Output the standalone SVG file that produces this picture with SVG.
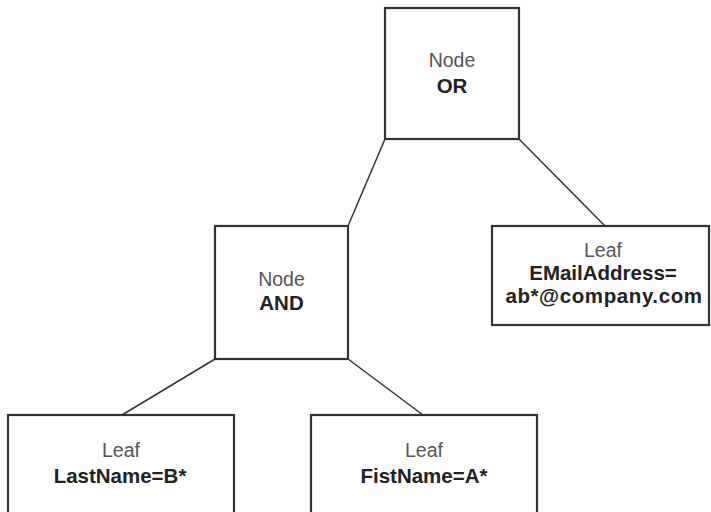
<svg xmlns="http://www.w3.org/2000/svg" width="711" height="512" viewBox="0 0 711 512">
<style>
.box{fill:#fff;stroke:#333;stroke-width:2.2}
.edge{stroke:#333;stroke-width:1.5;fill:none}
text{font-family:"Liberation Sans",Arial,sans-serif;font-size:19.5px;text-anchor:middle}
.t{fill:#555}
.b{fill:#222;font-weight:bold;font-size:20.5px}
</style>
<rect width="711" height="512" fill="#fff"/>
<g id="connectors">
<line class="edge" x1="385" y1="139" x2="348" y2="226"/>
<line class="edge" x1="519" y1="139" x2="605" y2="226"/>
<line class="edge" x1="215" y1="359" x2="122" y2="415"/>
<line class="edge" x1="348" y1="359" x2="423" y2="415"/>
</g>
<g id="node-or">
<rect class="box" x="385" y="8" width="134" height="131"/>
<text class="t" x="452" y="67">Node</text>
<text class="b" x="452" y="93">OR</text>
</g>
<g id="node-and">
<rect class="box" x="215" y="226" width="133" height="133"/>
<text class="t" x="281.5" y="286">Node</text>
<text class="b" x="281.5" y="310">AND</text>
</g>
<g id="leaf-email">
<rect class="box" x="492" y="226" width="217" height="99"/>
<text class="t" x="603" y="257">Leaf</text>
<text class="b" x="603" y="280">EMailAddress=</text>
<text class="b" x="604" y="303" letter-spacing="0.6">ab*@company.com</text>
</g>
<g id="leaf-lastname">
<rect class="box" x="8" y="415" width="226" height="110"/>
<text class="t" x="121" y="457">Leaf</text>
<text class="b" x="120" y="483">LastName=B*</text>
</g>
<g id="leaf-firstname">
<rect class="box" x="311" y="415" width="226" height="110"/>
<text class="t" x="424" y="457">Leaf</text>
<text class="b" x="424" y="483">FistName=A*</text>
</g>
</svg>
